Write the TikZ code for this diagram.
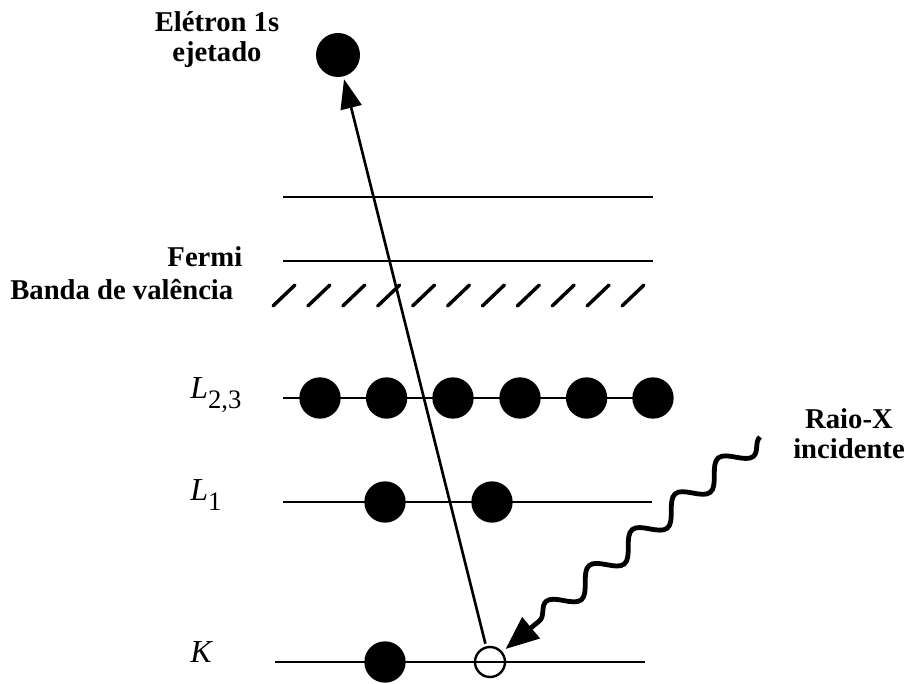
\documentclass[tikz,border=0pt]{standalone}
\usepackage{fontspec}
\setmainfont{Liberation Serif}
\usetikzlibrary{arrows.meta,decorations.pathmorphing,positioning,calc}

\begin{document}
\begin{tikzpicture}[x=0.75pt,y=-0.75pt,
    level/.style={line width=1.9pt},
    hatch/.style={line width=2.6pt, line cap=round},
    electron/.style={circle, fill=black, inner sep=0pt, minimum size=31pt},
    hole/.style={circle, draw=black, line width=1.8pt, inner sep=0pt, minimum size=22.5pt},
    lbl/.style={font=\fontsize{21.5}{22.5}\selectfont\bfseries},
    shell/.style={font=\fontsize{24}{26}\selectfont\itshape, anchor=base west, inner sep=0pt}]
    \useasboundingbox (0,0) rectangle (907,684);

    % niveis
    \draw[level] (283,197) -- (653,197);
    \draw[level] (283,261) -- (653,261);
    \foreach \i in {0,...,10}
        \draw[hatch] ({273+34.9*\i},306) -- ++(22,-21);
    \draw[level] (283,398) -- (653,398);
    \draw[level] (283,502) -- (652,502);
    \draw[level] (275,662) -- (645,662);

    % eletrons
    \foreach \x [count=\i] in {320,386.6,453,520,586.6,653}
        \node[electron] (l23-\i) at (\x,398) {};
    \node[electron] (l1-1) at (385,502) {};
    \node[electron] (l1-2) at (492,502) {};
    \node[electron] (k-1) at (385,662) {};
    \node[hole] (hole) at (490,662) {};
    \node[electron, minimum size=33pt] (ejected) at (338,55) {};

    % transicoes
    \draw[line width=2pt, -{Triangle[length=22pt,width=16pt]}, shorten <=2pt, shorten >=2pt] (hole) -- (ejected);
    \coordinate (xray) at (760,437);
    \draw[line width=3.6pt, decorate,
        decoration={snake, segment length=42pt, amplitude=8pt, post length=24pt},
        -{Triangle[length=25pt,width=20pt]}, shorten >=3pt] (xray) -- (hole);

    % rotulos
    \node[lbl, align=center, anchor=base] (ejlbl) at (217,62) {Elétron 1s\\ejetado};
    \node[lbl, anchor=base east] (fermi) at (247,267) {Fermi};
    \node[lbl, anchor=base east] (valence) at (238,300) {Banda de valência};
    \node[lbl, align=center, anchor=base] (xlbl) at (849,458) {Raio-X\\incidente};
    \node[shell] (l23lbl) at (190,398) {L\raisebox{-8pt}{\fontsize{20}{20}\selectfont\upshape 2,3}};
    \node[shell] (l1lbl) at (190,500) {L\raisebox{-8pt}{\fontsize{20}{20}\selectfont\upshape 1}};
    \node[shell] (klbl) at (190,662) {K};
\end{tikzpicture}
\end{document}
